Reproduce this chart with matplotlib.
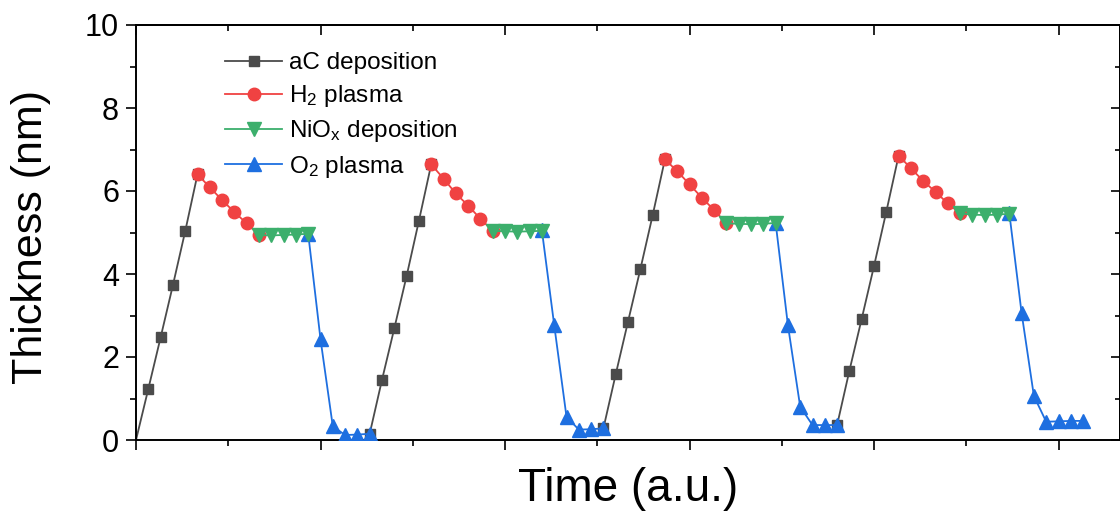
import matplotlib
matplotlib.use('Agg')
import matplotlib.pyplot as plt
import numpy as np
from matplotlib.ticker import MultipleLocator

plt.rcParams['font.family'] = ['Liberation Sans', 'DejaVu Sans']
plt.rcParams['mathtext.fontset'] = 'custom'
plt.rcParams['mathtext.rm'] = 'Liberation Sans'
plt.rcParams['mathtext.default'] = 'regular'

# thickness (nm) per cycle
ac_dep = [
    [0.00, 1.23, 2.47, 3.73, 5.03, 6.40],
    [0.15, 1.45, 2.69, 3.95, 5.28, 6.64],
    [0.28, 1.58, 2.85, 4.11, 5.41, 6.76],
    [0.36, 1.67, 2.92, 4.19, 5.50, 6.85],
]
h2_plasma = [
    [6.40, 6.09, 5.78, 5.49, 5.22, 4.94],
    [6.64, 6.30, 5.94, 5.65, 5.33, 5.04],
    [6.76, 6.48, 6.16, 5.84, 5.54, 5.22],
    [6.85, 6.55, 6.24, 5.98, 5.70, 5.46],
]
niox_dep = [
    [4.94, 4.93, 4.94, 4.95, 4.97],
    [5.04, 5.03, 5.02, 5.03, 5.04],
    [5.22, 5.21, 5.20, 5.21, 5.23],
    [5.46, 5.43, 5.42, 5.43, 5.45],
]
o2_plasma = [
    [4.97, 2.43, 0.33, 0.12, 0.13, 0.15],
    [5.05, 2.77, 0.56, 0.25, 0.26, 0.28],
    [5.24, 2.77, 0.80, 0.36, 0.36, 0.36],
    [5.47, 3.06, 1.06, 0.44, 0.45, 0.46, 0.46],
]

cycle_len = 19
# step index where each phase starts inside a cycle
offsets = {'ac': 0, 'h2': 5, 'niox': 10, 'o2': 14}


def series(cycles, offset):
    xs, ys = [], []
    for i, vals in enumerate(cycles):
        start = i * cycle_len + offset
        xs += list(np.arange(start, start + len(vals))) + [np.nan]
        ys += list(vals) + [np.nan]
    return np.array(xs, float), np.array(ys, float)


fig = plt.figure(figsize=(11.2, 5.14), dpi=100)
ax = fig.add_axes([136 / 1120, 74 / 514, 984 / 1120, 415 / 514])

x, y = series(ac_dep, offsets['ac'])
# the corner point at the origin shows no marker in the original
ax.plot(x, y, color='#4b4b4b', lw=1.3, marker='s', ms=7.5, markevery=list(range(1, len(x))),
        label='aC deposition', zorder=2)
x, y = series(o2_plasma, offsets['o2'])
ax.plot(x, y, color='#1e6fe0', lw=1.3, marker='^', ms=10, label='O$_2$ plasma', zorder=3)
x, y = series(h2_plasma, offsets['h2'])
ax.plot(x, y, color='#f04242', lw=1.3, marker='o', ms=9, label='H$_2$ plasma', zorder=4)
x, y = series(niox_dep, offsets['niox'])
ax.plot(x, y, color='#3caf6c', lw=1.3, marker='v', ms=10, label='NiO$_x$ deposition', zorder=5)

ax.set_xlim(0, 80)
ax.set_ylim(0, 10)
ax.xaxis.set_major_locator(MultipleLocator(15))
ax.xaxis.set_minor_locator(MultipleLocator(7.5))
ax.yaxis.set_major_locator(MultipleLocator(2))
ax.yaxis.set_minor_locator(MultipleLocator(1))

for s in ax.spines.values():
    s.set_linewidth(1.4)
ax.tick_params(which='both', direction='out', top=False, right=False, width=1.2,
               labelbottom=False, labelsize=22, pad=5)
ax.tick_params(which='major', length=7.2)
ax.tick_params(which='minor', length=4.3)

top = ax.secondary_xaxis('top')
top.xaxis.set_major_locator(MultipleLocator(15))
top.xaxis.set_minor_locator(MultipleLocator(7.5))
top.tick_params(which='both', direction='in', width=1.2, labeltop=False)
top.tick_params(which='major', length=7.5)
top.tick_params(which='minor', length=4.3)
top.spines['top'].set_linewidth(1.4)

right = ax.secondary_yaxis('right')
right.yaxis.set_major_locator(MultipleLocator(2))
right.yaxis.set_minor_locator(MultipleLocator(1))
right.tick_params(which='both', direction='in', width=1.2, labelright=False)
right.tick_params(which='major', length=6.5)
right.tick_params(which='minor', length=3.5)
right.spines['right'].set_linewidth(1.4)

ax.set_xlabel('Time (a.u.)', fontsize=33, labelpad=12)
ax.set_ylabel('Thickness (nm)', fontsize=31)
ax.yaxis.set_label_coords(-0.086, 0.49)

handles, labels = ax.get_legend_handles_labels()
order = ['aC deposition', 'H$_2$ plasma', 'NiO$_x$ deposition', 'O$_2$ plasma']
hmap = dict(zip(labels, handles))
ax.legend([hmap[k] for k in order], order, loc='upper left',
          bbox_to_anchor=(225 / 1120, 1 - 52 / 514), bbox_transform=fig.transFigure,
          frameon=False, fontsize=17.5, handlelength=2.35, handletextpad=0.3,
          labelspacing=0.38, borderpad=0, borderaxespad=0)

fig.savefig('out.png', dpi=100)
